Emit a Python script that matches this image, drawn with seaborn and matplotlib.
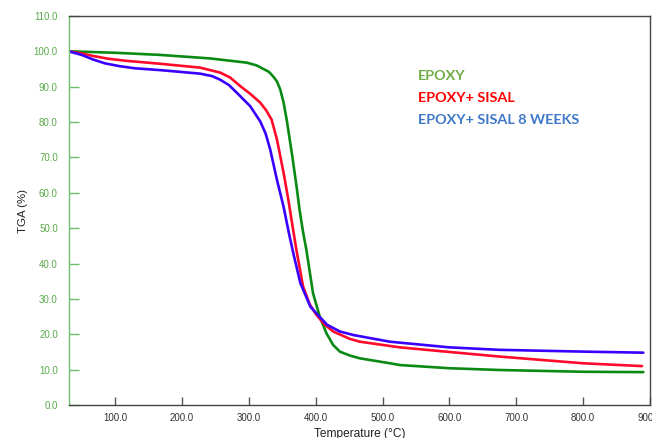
# TGA curves for epoxy / epoxy+sisal samples
import pandas as pd
import matplotlib
matplotlib.use('Agg')
import matplotlib.pyplot as plt
import seaborn as sns

# values
temp_epoxy = [31, 67, 100, 167, 242, 297, 312, 321, 330, 336, 342, 347, 352, 357, 365, 372, 376,
              381, 386, 396, 406, 416, 426, 436, 451, 466, 511, 526, 600, 675, 800, 890]
tga_epoxy = [100.0, 99.8, 99.6, 99.0, 98.0, 96.8, 96.0, 95.1, 94.2, 93.0, 91.5, 89.2, 85.5,
             80.2, 70.3, 60.9, 55.0, 49.0, 43.9, 31.6, 25.0, 20.3, 17.0, 15.1, 14.0, 13.2,
             11.8, 11.3, 10.4, 9.9, 9.4, 9.3]

temp_sisal = [31, 50, 67, 90, 118, 167, 227, 257, 272, 287, 302, 317, 326, 334, 342, 352, 359,
              365, 371, 381, 391, 401, 413, 426, 451, 466, 526, 600, 675, 800, 888]
tga_sisal = [100.0, 99.4, 98.7, 97.9, 97.3, 96.5, 95.4, 94.0, 92.6, 90.2, 88.0, 85.5, 83.3,
             80.7, 75.1, 65.6, 58.1, 51.0, 44.0, 33.6, 28.5, 25.5, 22.8, 20.8, 18.7, 17.9,
             16.3, 15.0, 13.7, 11.8, 11.0]

temp_8weeks = [31, 50, 67, 85, 107, 130, 167, 227, 245, 257, 270, 282, 302, 317, 325, 332, 342,
               352, 360, 367, 377, 392, 404, 417, 436, 456, 511, 600, 675, 800, 890]
tga_8weeks = [100.0, 99.0, 97.7, 96.6, 95.8, 95.2, 94.7, 93.7, 93.0, 92.0, 90.5, 88.3, 84.5,
              80.2, 76.8, 72.2, 63.7, 56.0, 48.5, 42.5, 34.5, 27.8, 25.3, 22.7, 20.8, 19.8,
              17.9, 16.3, 15.6, 15.1, 14.8]

labels = ['EPOXY', 'EPOXY+ SISAL', 'EPOXY+ SISAL 8 WEEKS']
line_colors = ['#0a8a14', '#ff0a2a', '#3a00ff']
text_colors = ['#70ad47', '#ff0000', '#3f78c8']

sns.set_style('white', {'xtick.bottom': True, 'ytick.left': True})
plt.rcParams['font.family'] = ['Liberation Sans', 'DejaVu Sans']
plt.rcParams['xtick.major.size'] = 6
plt.rcParams['ytick.major.size'] = 7
plt.rcParams['xtick.major.width'] = 1
plt.rcParams['ytick.major.width'] = 1

fig = plt.figure(figsize=(6.52, 4.38), dpi=100)
ax = fig.add_axes([0.1058, 0.0753, 0.8912, 0.8882])

series = [(temp_epoxy, tga_epoxy), (temp_sisal, tga_sisal), (temp_8weeks, tga_8weeks)]
for (t, w), lab, col in zip(series, labels, line_colors):
    df = pd.DataFrame({'Temperature': t, 'TGA': w})
    sns.lineplot(data=df, x='Temperature', y='TGA', color=col, linewidth=1.9, ax=ax)

ax.set_xlim(31, 900)
ax.set_ylim(0, 110)
ax.set_xticks(range(100, 901, 100))
ax.set_xticklabels([f'{v:.1f}' for v in range(100, 901, 100)])
ax.set_yticks(range(0, 111, 10))
ax.set_yticklabels([f'{v:.1f}' for v in range(0, 111, 10)])

ax.tick_params(axis='x', bottom=True, direction='in', length=6, width=1, color='#555555',
               labelcolor='#333333', labelsize=7, pad=6)
ax.tick_params(axis='y', left=True, direction='in', length=7, width=1, color='#6cbf6c',
               labelcolor='#5aab4a', labelsize=7, pad=8)

for side in ['top', 'right', 'bottom']:
    ax.spines[side].set_color('#444444')
    ax.spines[side].set_linewidth(1)
ax.spines['left'].set_color('#6cbf6c')
ax.spines['left'].set_linewidth(1)

ax.set_xlabel('Temperature (°C)', fontsize=8.6, color='#222222', labelpad=3)
ax.set_ylabel('TGA (%)', fontsize=8.2, color='#222222', labelpad=4)

# coloured labels in place of a legend
for i, (lab, col) in enumerate(zip(labels, text_colors)):
    ax.text(0.601, 0.846 - i * 0.0566, lab, transform=ax.transAxes, color=col,
            fontsize=10.4, fontweight='bold', family=['Lato', 'DejaVu Sans'], va='center')

fig.savefig('out.png', dpi=100)
